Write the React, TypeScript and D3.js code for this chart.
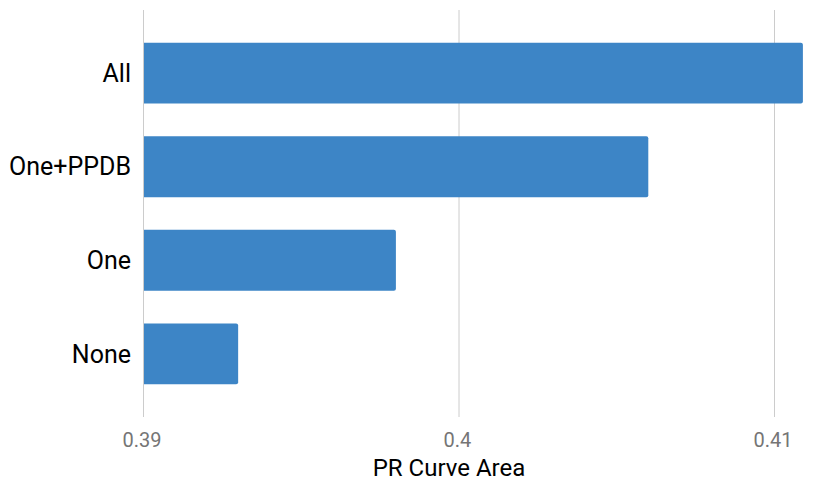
import React, { useRef, useEffect } from 'react';
import * as d3 from 'd3';

// values
const categories = ['All', 'One+PPDB', 'One', 'None'];
const areas = [0.4109, 0.406, 0.398, 0.393];
const ticks = [0.39, 0.4, 0.41];

const W = 830;
const H = 485;

const App = () => {
  const ref = useRef<SVGSVGElement>(null);

  useEffect(() => {
    const svg = d3.select(ref.current);
    svg.selectAll('*').remove();

    const font = 'Roboto, sans-serif';

    const x = d3.scaleLinear().domain([0.39, 0.41]).range([143.5, 774.5]);
    const y = d3.scaleBand()
      .domain(categories)
      .range([10, 417])
      .paddingInner(0.35)
      .paddingOuter(0.35);

    // Gridlines
    svg.append('g')
      .selectAll('line')
      .data(ticks)
      .join('line')
      .attr('x1', d => x(d))
      .attr('x2', d => x(d))
      .attr('y1', 10)
      .attr('y2', 417)
      .attr('stroke', '#cccccc')
      .attr('stroke-width', 1);

    // Bars (rounded right end only)
    const r = 2;
    svg.append('g')
      .selectAll('path')
      .data(categories)
      .join('path')
      .attr('d', (c, i) => {
        const x0 = x(0.39) + 0.5;
        const x1 = x(areas[i]);
        const y0 = y(c)!;
        const h = y.bandwidth();
        return `M${x0},${y0}H${x1 - r}Q${x1},${y0} ${x1},${y0 + r}V${y0 + h - r}Q${x1},${y0 + h} ${x1 - r},${y0 + h}H${x0}Z`;
      })
      .attr('fill', '#3d85c6');

    // Category labels
    svg.append('g')
      .selectAll('text')
      .data(categories)
      .join('text')
      .attr('x', 131)
      .attr('y', c => y(c)! + y.bandwidth() / 2)
      .attr('dy', '0.35em')
      .attr('text-anchor', 'end')
      .attr('font-family', font)
      .attr('font-size', 25)
      .attr('fill', '#000')
      .text(c => c);

    // Tick labels
    svg.append('g')
      .selectAll('text')
      .data(ticks)
      .join('text')
      .attr('x', d => x(d) - 1.5)
      .attr('y', 447)
      .attr('text-anchor', 'middle')
      .attr('font-family', font)
      .attr('font-size', 20)
      .attr('fill', '#757575')
      .text(d => d3.format('~g')(d));

    // Axis title
    svg.append('text')
      .attr('x', 449)
      .attr('y', 476)
      .attr('text-anchor', 'middle')
      .attr('font-family', font)
      .attr('font-size', 24)
      .attr('fill', '#000')
      .text('PR Curve Area');
  }, []);

  return (
    <svg
      ref={ref}
      width={W}
      height={H}
      style={{ position: 'absolute', left: 0, top: 0, background: '#fff' }}
    />
  );
};

export default App;
